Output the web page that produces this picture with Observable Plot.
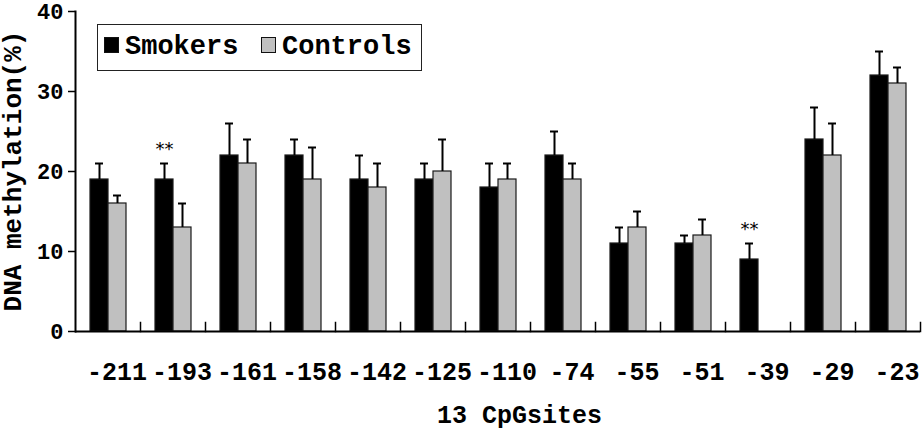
<!DOCTYPE html>
<html><head><meta charset="utf-8">
<script src="https://cdn.jsdelivr.net/npm/d3@7"></script>
<script src="https://cdn.jsdelivr.net/npm/@observablehq/plot@0.6"></script>
<style>
body{margin:0;background:#fff;}
#wrap{position:relative;width:924px;height:441px;font-family:"Liberation Mono",monospace;font-weight:bold;color:#000;}
.abs{position:absolute;line-height:1;white-space:nowrap;}
#legend{position:absolute;left:97px;top:24px;width:323px;height:45px;border:1.5px solid #222;background:#fff;}
.sw{position:absolute;width:13px;height:14px;border:1px solid #111;}
</style></head>
<body><div id="wrap"></div>
<script>
const sites = ["-211","-193","-161","-158","-142","-125","-110","-74","-55","-51","-39","-29","-23"];
const seriesNames = ["Smokers","Controls"];
const smokers    = [19,19,22,22,19,19,18,22,11,11, 9,24,32];
const smokersErr = [21,21,26,24,22,21,21,25,13,12,11,28,35];
const controls    = [16,13,21,19,18,20,19,19,13,12,null,22,31];
const controlsErr = [17,16,24,23,21,24,21,21,15,14,null,26,33];
const significant = ["-193","-39"];
const yTicks = [0,10,20,30,40];
const xTitle = "13 CpGsites";
const yTitle = "DNA methylation(%)";

const rows = [];
sites.forEach((s,i)=>{
  rows.push({site:s, series:"Smokers", value:smokers[i], err:smokersErr[i]});
  if (controls[i] != null) rows.push({site:s, series:"Controls", value:controls[i], err:controlsErr[i]});
});
const sigRows = rows.filter(r => r.series==="Smokers" && significant.includes(r.site));

const plot = Plot.plot({
  width: 924, height: 441,
  marginLeft: 73, marginRight: 2, marginTop: 11, marginBottom: 110,
  style: {fontFamily: "Liberation Mono, monospace", fontWeight: "bold", color: "#000", background: "#fff", overflow: "visible"},
  fx: {domain: sites, padding: 0, label: null},
  x: {domain: seriesNames, paddingInner: 0, paddingOuter: 0.74, axis: null},
  y: {domain: [0, 40], axis: null},
  color: {domain: seriesNames, range: ["#000000", "#c0c0c0"]},
  marks: [
    Plot.barY(rows, {fx:"site", x:"series", y:"value", fill:"series", stroke:"#1a1a1a", strokeWidth:1.2}),
    Plot.ruleX(rows, {fx:"site", x:"series", y1:"value", y2:"err", stroke:"#000", strokeWidth:2}),
    Plot.tickY(rows, {fx:"site", x:"series", y:"err", stroke:"#000", strokeWidth:2, insetLeft:5, insetRight:5}),
    Plot.text(sigRows, {fx:"site", x:"series", y:"err", text: d => "**", dy:-14, fontSize:18, fontWeight:"normal", fontFamily:"DejaVu Sans"}),
    Plot.ruleY([0], {stroke:"#000", strokeWidth:2}),
    Plot.frame({anchor:"right", insetTop:311, stroke:"#000", strokeWidth:1.5}),
    Plot.frame({anchor:"left", facetAnchor:"left", stroke:"#000", strokeWidth:2}),
    Plot.axisY({ticks: yTicks, tickSize:7, tickPadding:5, fontSize:22, label:null, strokeWidth:1.5}),
    Plot.axisFx({anchor:"bottom", tickSize:0, tickPadding:31, fontSize:25, dx:9, label:null})
  ]
});
const wrap = document.getElementById("wrap");
wrap.appendChild(plot);

const xt = document.createElement("div");
xt.className = "abs"; xt.textContent = xTitle;
Object.assign(xt.style, {left:"437px", top:"404px", fontSize:"25px"});
wrap.appendChild(xt);

const yt = document.createElement("div");
yt.className = "abs"; yt.textContent = yTitle;
Object.assign(yt.style, {left:"14px", top:"171px", fontSize:"26px", transform:"translate(-50%,-50%) rotate(-90deg)"});
wrap.appendChild(yt);

const lg = document.createElement("div"); lg.id = "legend";
wrap.appendChild(lg);
const mk = (left, fill, label, tleft) => {
  const s = document.createElement("div"); s.className = "sw";
  Object.assign(s.style, {left: left+"px", top:"12px", background: fill});
  lg.appendChild(s);
  const t = document.createElement("div"); t.className = "abs"; t.textContent = label;
  Object.assign(t.style, {left: tleft+"px", top:"9px", fontSize:"27px"});
  lg.appendChild(t);
};
mk(6, "#000000", seriesNames[0], 27);
mk(163, "#c0c0c0", seriesNames[1], 184);
</script></body></html>
